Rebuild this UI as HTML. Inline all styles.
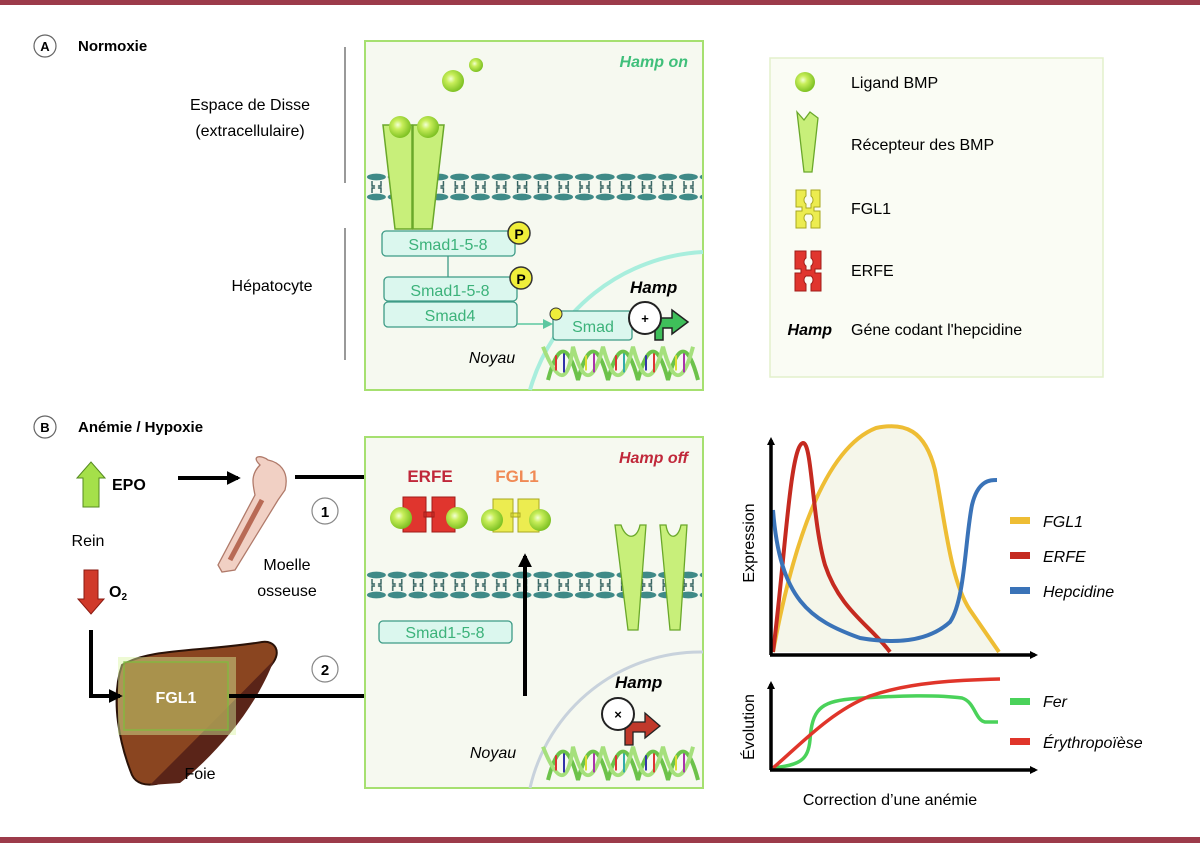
<!DOCTYPE html>
<html><head><meta charset="utf-8"><style>
html,body{margin:0;padding:0;background:#fff;}
svg{display:block;font-family:"Liberation Sans",sans-serif;}
</style></head><body>
<svg width="1200" height="843" viewBox="0 0 1200 843" xmlns="http://www.w3.org/2000/svg">
<defs>
<g id="memunit">
<ellipse cx="10.4" cy="4" rx="9.5" ry="3.4" fill="#3f8a87"/>
<ellipse cx="10.4" cy="24" rx="9.5" ry="3.4" fill="#3f8a87"/>
<path d="M6 8 v5 h3 M15 8 v5 h-3 M6 20 v-5 h3 M15 20 v-5 h-3" stroke="#2d5d5b" stroke-width="1.4" fill="none"/>
</g>
<pattern id="memA" x="366" y="173" width="20.8" height="28" patternUnits="userSpaceOnUse"><use href="#memunit"/></pattern>
<pattern id="memB" x="366" y="571" width="20.8" height="28" patternUnits="userSpaceOnUse"><use href="#memunit"/></pattern>
<radialGradient id="ball" cx="0.4" cy="0.4" r="0.6"><stop offset="0" stop-color="#f3ffd6"/><stop offset="0.35" stop-color="#c8ee5a"/><stop offset="1" stop-color="#7fc224"/></radialGradient>
<marker id="ah" markerWidth="8" markerHeight="8" refX="5" refY="4" orient="auto" markerUnits="userSpaceOnUse"><path d="M0 0 L8 4 L0 8z" fill="#000"/></marker>
<marker id="ahb" viewBox="0 0 10 10" markerWidth="14" markerHeight="14" refX="8" refY="5" orient="auto" markerUnits="userSpaceOnUse"><path d="M0 0 L10 5 L0 10z" fill="#000"/></marker>
<marker id="ahg" viewBox="0 0 10 10" markerWidth="10" markerHeight="10" refX="8" refY="5" orient="auto" markerUnits="userSpaceOnUse"><path d="M0 0 L10 5 L0 10z" fill="#5cc7a0"/></marker>
<g id="dna">
<path d="M0 40 C10 0 20 0 30 40 C40 0 50 0 60 40 C70 0 80 0 90 40 C100 0 110 0 120 40 C130 0 140 0 150 40" stroke="#6cc24a" stroke-width="4" fill="none"/>
<path d="M-5 5 C10 45 20 45 25 5 C35 45 45 45 55 5 C65 45 75 45 85 5 C95 45 105 45 115 5 C125 45 135 45 145 5" stroke="#a5e07c" stroke-width="4" fill="none"/>
<g stroke-width="2"><line x1="8" y1="14" x2="8" y2="30" stroke="#d33"/><line x1="16" y1="12" x2="16" y2="32" stroke="#33a"/><line x1="38" y1="14" x2="38" y2="30" stroke="#dd3"/><line x1="46" y1="12" x2="46" y2="32" stroke="#a3a"/><line x1="68" y1="14" x2="68" y2="30" stroke="#d33"/><line x1="76" y1="12" x2="76" y2="32" stroke="#3aa"/><line x1="98" y1="14" x2="98" y2="30" stroke="#33a"/><line x1="106" y1="12" x2="106" y2="32" stroke="#d33"/><line x1="128" y1="14" x2="128" y2="30" stroke="#dd3"/><line x1="136" y1="12" x2="136" y2="32" stroke="#a3a"/></g>
</g>
</defs>

<rect x="0" y="0" width="1200" height="5" fill="#9c3b4a"/>
<rect x="0" y="837" width="1200" height="6" fill="#9c3b4a"/>

<!-- A header -->
<circle cx="45" cy="46" r="11" fill="#fff" stroke="#666" stroke-width="1.2"/>
<text x="45" y="51" font-size="13" font-weight="bold" text-anchor="middle">A</text>
<text x="78" y="51" font-size="15" font-weight="bold">Normoxie</text>
<line x1="345" y1="47" x2="345" y2="183" stroke="#999" stroke-width="2"/>
<line x1="345" y1="228" x2="345" y2="360" stroke="#999" stroke-width="2"/>
<text x="250" y="110" font-size="16" text-anchor="middle">Espace de Disse</text>
<text x="250" y="136" font-size="16" text-anchor="middle">(extracellulaire)</text>
<text x="272" y="291" font-size="16" text-anchor="middle">Hépatocyte</text>

<!-- Box A -->
<rect x="365" y="41" width="338" height="349" fill="#f6f9f0" stroke="#a6e070" stroke-width="2"/>
<text x="688" y="67" font-size="16" font-weight="bold" font-style="italic" fill="#3fbf7a" text-anchor="end">Hamp on</text>
<path d="M530 390 A190 190 0 0 1 703 252" stroke="#a8eedd" stroke-width="4" fill="none"/>
<rect x="366" y="173" width="336" height="28" fill="url(#memA)"/>
<circle cx="453" cy="81" r="11" fill="url(#ball)"/>
<circle cx="476" cy="65" r="7" fill="url(#ball)"/>
<path d="M383 125 L412 125 L412 229 L395 229z" fill="#c8ef7a" stroke="#6aa82a" stroke-width="1.5"/>
<path d="M413 125 L444 125 L432 229 L413 229z" fill="#c8ef7a" stroke="#6aa82a" stroke-width="1.5"/>
<circle cx="400" cy="127" r="11" fill="url(#ball)"/>
<circle cx="428" cy="127" r="11" fill="url(#ball)"/>
<rect x="382" y="231" width="133" height="25" rx="4" fill="#dbf7ee" stroke="#3e9b86" stroke-width="1.3"/>
<text x="448" y="250" font-size="16" fill="#3cb27a" text-anchor="middle">Smad1-5-8</text>
<line x1="448" y1="256" x2="448" y2="277" stroke="#3e9b86" stroke-width="1.3"/>
<rect x="384" y="277" width="133" height="24" rx="4" fill="#dbf7ee" stroke="#3e9b86" stroke-width="1.3"/>
<text x="450" y="296" font-size="16" fill="#3cb27a" text-anchor="middle">Smad1-5-8</text>
<rect x="384" y="302" width="133" height="25" rx="4" fill="#dbf7ee" stroke="#3e9b86" stroke-width="1.3"/>
<text x="450" y="321" font-size="16" fill="#3cb27a" text-anchor="middle">Smad4</text>
<circle cx="519" cy="233" r="11" fill="#f0ee3a" stroke="#333" stroke-width="1.5"/>
<text x="519" y="239" font-size="14" font-weight="bold" text-anchor="middle">P</text>
<circle cx="521" cy="278" r="11" fill="#f0ee3a" stroke="#333" stroke-width="1.5"/>
<text x="521" y="284" font-size="14" font-weight="bold" text-anchor="middle">P</text>
<line x1="517" y1="324" x2="551" y2="324" stroke="#5cc7a0" stroke-width="1.5" marker-end="url(#ahg)"/>
<g transform="translate(548,342) scale(1,0.95)"><use href="#dna"/></g>
<rect x="553" y="311" width="79" height="29" rx="3" fill="#dbf7ee" stroke="#3e9b86" stroke-width="1.3"/>
<text x="593" y="332" font-size="16" fill="#3cb27a" text-anchor="middle">Smad</text>
<circle cx="556" cy="314" r="6" fill="#f0ee3a" stroke="#333" stroke-width="1"/>
<path d="M655 340 V318 H672 V310 L688 322 L672 334 V328 H663 V340z" fill="#3fbf5a" stroke="#222" stroke-width="1.5"/>
<circle cx="645" cy="318" r="16" fill="#fff" stroke="#222" stroke-width="2"/>
<text x="645" y="323" font-size="13" font-weight="bold" text-anchor="middle">+</text>
<text x="630" y="293" font-size="17" font-weight="bold" font-style="italic">Hamp</text>
<text x="492" y="363" font-size="16" font-style="italic" text-anchor="middle">Noyau</text>

<!-- Legend -->
<rect x="770" y="58" width="333" height="319" fill="#fafcf4" stroke="#e3f0cc" stroke-width="1.5"/>
<circle cx="805" cy="82" r="10" fill="url(#ball)"/>
<text x="851" y="88" font-size="16">Ligand BMP</text>
<path d="M797 112 L804 120 L810 112 L818 118 L812 172 L804 172z" fill="#c8ef7a" stroke="#6aa82a" stroke-width="1.3"/>
<text x="851" y="150" font-size="16">Récepteur des BMP</text>
<path d="M796 190 h10 v6 a5 5 0 0 0 0 8 v4 h5 v-4 a5 5 0 0 0 0 -8 v-6 h9 v17 h-6 v4 h6 v17 h-9 v-6 a5 5 0 0 0 0 -8 h-5 a5 5 0 0 0 0 8 v6 h-10 v-17 h6 v-4 h-6z" fill="#ecec50" stroke="#a8a820" stroke-width="1"/>
<text x="851" y="214" font-size="16">FGL1</text>
<path d="M795 251 h11 v7 a5 5 0 0 0 0 8 v4 h5 v-4 a5 5 0 0 0 0 -8 v-7 h10 v18 h-6 v4 h6 v18 h-10 v-7 a5 5 0 0 0 0 -8 h-5 a5 5 0 0 0 0 8 v7 h-11 v-18 h6 v-4 h-6z" fill="#e0352e" stroke="#a01c18" stroke-width="1"/>
<text x="851" y="276" font-size="16">ERFE</text>
<text x="832" y="335" font-size="16" font-weight="bold" font-style="italic" text-anchor="end">Hamp</text>
<text x="851" y="335" font-size="16">Géne codant l'hepcidine</text>

<!-- B header -->
<circle cx="45" cy="427" r="11" fill="#fff" stroke="#666" stroke-width="1.2"/>
<text x="45" y="432" font-size="13" font-weight="bold" text-anchor="middle">B</text>
<text x="78" y="432" font-size="15" font-weight="bold">Anémie / Hypoxie</text>

<path d="M83 507 V478 H77 L91 462 L105 478 H99 V507z" fill="#a5e04a" stroke="#558a20" stroke-width="1"/>
<text x="112" y="490" font-size="16" font-weight="bold">EPO</text>
<text x="88" y="546" font-size="16" text-anchor="middle">Rein</text>
<path d="M84 570 V599 H78 L91 614 L104 599 H98 V570z" fill="#d03a2a" stroke="#8a1a10" stroke-width="1"/>
<text x="109" y="597" font-size="16" font-weight="bold">O<tspan font-size="10" dy="3">2</tspan></text>

<line x1="178" y1="478" x2="238" y2="478" stroke="#000" stroke-width="4" marker-end="url(#ahb)"/>
<path d="M260 465 C250 455 262 455 268 460 C278 462 290 470 285 490 L278 500 L235 570 L222 572 L218 565 L255 495 C253 485 250 475 260 465z" fill="#f1d0c4" stroke="#b07a6a" stroke-width="1.3"/>
<path d="M262 500 L230 560" stroke="#b86a55" stroke-width="5"/>
<text x="287" y="570" font-size="16" text-anchor="middle">Moelle</text>
<text x="287" y="596" font-size="16" text-anchor="middle">osseuse</text>
<line x1="295" y1="477" x2="384" y2="477" stroke="#000" stroke-width="4" marker-end="url(#ahb)"/>
<circle cx="325" cy="511" r="13" fill="#fff" stroke="#888" stroke-width="1.2"/>
<text x="325" y="517" font-size="15" font-weight="bold" text-anchor="middle">1</text>
<circle cx="325" cy="669" r="13" fill="#fff" stroke="#888" stroke-width="1.2"/>
<text x="325" y="675" font-size="15" font-weight="bold" text-anchor="middle">2</text>

<!-- Liver -->
<path d="M122 665 C150 648 200 652 262 642 C275 640 282 652 272 664 C250 695 220 735 190 765 C170 785 140 792 132 775 C120 745 110 700 122 665z" fill="#8a4520" stroke="#2a1208" stroke-width="2"/>
<path d="M150 785 C185 750 235 700 274 660 C255 710 215 755 180 783z" fill="#5a2418"/>
<rect x="118" y="657" width="118" height="78" fill="#d9f5a0" opacity="0.45"/>
<rect x="124" y="662" width="104" height="68" fill="#a8924a" opacity="0.8" stroke="#7bbf3a" stroke-width="1.5"/>
<text x="176" y="703" font-size="16" font-weight="bold" fill="#fff" text-anchor="middle">FGL1</text>
<text x="200" y="779" font-size="16" text-anchor="middle">Foie</text>
<path d="M91 630 V696 H120" stroke="#000" stroke-width="4" fill="none" marker-end="url(#ahb)"/>
<path d="M229 696 H525 V556" stroke="#000" stroke-width="4" fill="none" marker-end="url(#ahb)"/>

<!-- Box B -->
<rect x="365" y="437" width="338" height="351" fill="#f6f9f0" stroke="#a6e070" stroke-width="2"/>
<path d="M530 788 A175 175 0 0 1 703 652" stroke="#c8d2dc" stroke-width="3" fill="none"/>
<text x="688" y="463" font-size="16" font-weight="bold" font-style="italic" fill="#c0283a" text-anchor="end">Hamp off</text>
<text x="430" y="482" font-size="17" font-weight="bold" fill="#c0283a" text-anchor="middle">ERFE</text>
<text x="517" y="482" font-size="17" font-weight="bold" fill="#f08a55" text-anchor="middle">FGL1</text>
<path d="M403 497 h23 v35 h-23z M432 497 h23 v35 h-23z M424 512 h10 v5 h-10z" fill="#e0352e" stroke="#a01c18" stroke-width="1"/>
<circle cx="401" cy="518" r="11" fill="url(#ball)"/>
<circle cx="457" cy="518" r="11" fill="url(#ball)"/>
<path d="M493 499 h20 v33 h-20z M518 499 h21 v33 h-21z M511 513 h9 v4 h-9z" fill="#ecec50" stroke="#a8a820" stroke-width="1"/>
<circle cx="492" cy="520" r="11" fill="url(#ball)"/>
<circle cx="540" cy="520" r="11" fill="url(#ball)"/>
<rect x="366" y="571" width="336" height="28" fill="url(#memB)"/>
<path d="M615 525 L621 525 C626 540 637 540 640 525 L646 525 L638 630 L628 630z" fill="#c8ef7a" stroke="#6aa82a" stroke-width="1.3"/>
<path d="M660 525 L666 525 C668 540 678 540 681 525 L687 525 L680 630 L670 630z" fill="#c8ef7a" stroke="#6aa82a" stroke-width="1.3"/>
<line x1="525" y1="696" x2="525" y2="556" stroke="#000" stroke-width="4" marker-end="url(#ahb)"/>
<rect x="379" y="621" width="133" height="22" rx="4" fill="#dbf7ee" stroke="#3e9b86" stroke-width="1.3"/>
<text x="445" y="638" font-size="16" fill="#3cb27a" text-anchor="middle">Smad1-5-8</text>
<g transform="translate(548,742) scale(1,0.95)"><use href="#dna"/></g>
<path d="M625 745 V722 H645 V713 L660 726 L645 738 V732 H633 V745z" fill="#c0392b" stroke="#222" stroke-width="1.3"/>
<circle cx="618" cy="714" r="16" fill="#fff" stroke="#222" stroke-width="2"/>
<text x="618" y="719" font-size="13" font-weight="bold" text-anchor="middle">×</text>
<text x="615" y="688" font-size="17" font-weight="bold" font-style="italic">Hamp</text>
<text x="493" y="758" font-size="16" font-style="italic" text-anchor="middle">Noyau</text>

<!-- Chart top -->
<path d="M773 652 C790 560 820 450 876 428 C905 422 925 430 935 470 C945 520 950 580 970 610 L999 652z" fill="#f5f6ea"/>
<path d="M773 652 C790 560 820 450 876 428 C905 422 925 430 935 470 C945 520 950 580 970 610 L999 652" stroke="#eebd34" stroke-width="4" fill="none"/>
<path d="M773 652 C785 560 790 445 803 443 C812 442 812 520 825 565 C840 610 870 625 890 652" stroke="#c52a20" stroke-width="4" fill="none"/>
<path d="M773 510 C780 600 810 620 860 638 C900 645 930 640 950 622 C965 600 965 540 972 505 C978 480 990 480 997 480" stroke="#3a73b8" stroke-width="4" fill="none"/>
<line x1="771" y1="655" x2="771" y2="440" stroke="#000" stroke-width="3.5" marker-end="url(#ah)"/>
<line x1="770" y1="655" x2="1035" y2="655" stroke="#000" stroke-width="3.5" marker-end="url(#ah)"/>
<text transform="translate(754,543) rotate(-90)" font-size="16" text-anchor="middle">Expression</text>
<rect x="1010" y="517" width="20" height="7" fill="#eebd34"/>
<rect x="1010" y="552" width="20" height="7" fill="#c52a20"/>
<rect x="1010" y="587" width="20" height="7" fill="#3a73b8"/>
<text x="1043" y="527" font-size="16" font-style="italic">FGL1</text>
<text x="1043" y="562" font-size="16" font-style="italic">ERFE</text>
<text x="1043" y="597" font-size="16" font-style="italic">Hepcidine</text>

<!-- Chart bottom -->
<path d="M773 768 C800 765 808 760 810 740 C812 710 820 702 850 699 C900 695 940 695 962 698 C975 702 975 720 985 722 L998 722" stroke="#4ad25a" stroke-width="3.5" fill="none"/>
<path d="M773 768 C800 745 830 712 870 696 C910 682 960 680 1000 679" stroke="#e0352a" stroke-width="3.5" fill="none"/>
<line x1="771" y1="770" x2="771" y2="684" stroke="#000" stroke-width="3.5" marker-end="url(#ah)"/>
<line x1="770" y1="770" x2="1035" y2="770" stroke="#000" stroke-width="3.5" marker-end="url(#ah)"/>
<text transform="translate(754,727) rotate(-90)" font-size="16" text-anchor="middle">Évolution</text>
<rect x="1010" y="698" width="20" height="7" fill="#4ad25a"/>
<rect x="1010" y="738" width="20" height="7" fill="#e0352a"/>
<text x="1043" y="707" font-size="16" font-style="italic">Fer</text>
<text x="1043" y="748" font-size="16" font-style="italic">Érythropoïèse</text>
<text x="890" y="805" font-size="16" text-anchor="middle">Correction d’une anémie</text>
</svg>
</body></html>
